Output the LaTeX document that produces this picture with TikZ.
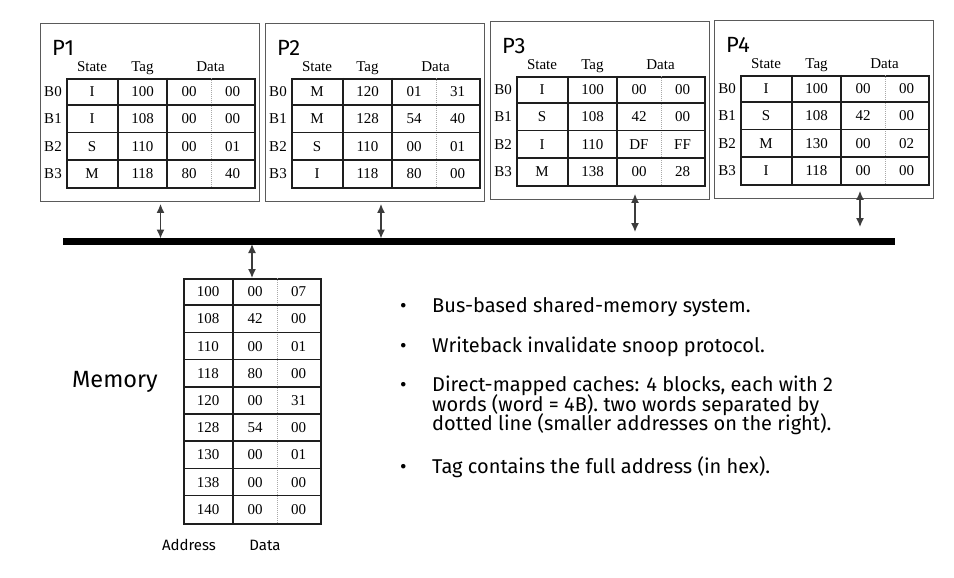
\documentclass[tikz,border=0pt]{standalone}
\usepackage{fontspec}
\setmainfont{Liberation Serif}
\newfontfamily\sansfont{Fira Sans}
\usetikzlibrary{
	positioning,
	arrows.meta
}

\definecolor{boxgray}{HTML}{5A5A5A}
\definecolor{gridblack}{HTML}{1E1E1E}
\definecolor{halfgray}{HTML}{A8A8A8}
\definecolor{arrowgray}{HTML}{3C3C3C}

\tikzset{
	procbox/.style={draw=boxgray, line width=0.9pt, minimum width=219pt,
		minimum height=178pt, anchor=north west, inner sep=0pt},
	tablebox/.style={draw=gridblack, line width=1.7pt, anchor=north west, inner sep=0pt},
	proclabel/.style={font=\sansfont\fontsize{22}{22}\selectfont, inner sep=0pt},
	cell/.style={font=\fontsize{15}{15}\selectfont, inner sep=0pt,
		text height=10pt, text depth=0pt},
	gridline/.style={draw=gridblack, line width=1.7pt},
	halfline/.style={draw=halfgray, line width=0.6pt, dash pattern=on 1pt off 1pt},
	busline/.style={line width=7pt, draw=black},
	busarrow/.style={draw=arrowgray, line width=1.3pt,
		{Latex[length=9pt,width=8pt]}-{Latex[length=9pt,width=8pt]}},
	bullettext/.style={font=\sansfont\fontsize{20}{20}\selectfont, inner sep=0pt, anchor=base west},
	sidelabel/.style={font=\sansfont\fontsize{15}{15}\selectfont, inner sep=0pt}
}

% one processor cache: name, x, y (top left of box), label, rows
\newcommand\drawcache[5]{
	\node[procbox] (#1) at (#2,#3) {};
	\node[proclabel, anchor=west] (#1-label) at (#2+12,#3+25) {#4};
	\node[tablebox, minimum width=188pt, minimum height=109.2pt] (#1-table) at (#2+26,#3+55) {};
	\node[cell] (#1-hs) at (#2+52,#3+44) {State};
	\node[cell] (#1-ht) at (#2+102.5,#3+44) {Tag};
	\node[cell] (#1-hd) at (#2+170.5,#3+44) {Data};
	\foreach \cx in {78,127}
		\draw[gridline] (#2+\cx,#3+55) -- (#2+\cx,#3+164.2);
	\draw[halfline] (#2+171,#3+55) -- (#2+171,#3+164.2);
	\foreach \ry in {1,2,3}
		\draw[gridline] (#2+26,#3+55+27.3*\ry) -- (#2+214,#3+55+27.3*\ry);
	\foreach \st/\tg/\dl/\dr [count=\r from 0] in {#5} {
		\node[cell] (#1-b\r) at (#2+13,#3+68.65+27.3*\r) {B\r};
		\node[cell] (#1-s\r) at (#2+52,#3+68.65+27.3*\r) {\st};
		\node[cell] (#1-t\r) at (#2+102.5,#3+68.65+27.3*\r) {\tg};
		\node[cell] (#1-l\r) at (#2+149,#3+68.65+27.3*\r) {\dl};
		\node[cell] (#1-r\r) at (#2+192.5,#3+68.65+27.3*\r) {\dr};
	}
}

\begin{document}
\begin{tikzpicture}[x=1pt,y=-1pt]
	\useasboundingbox (0,0) rectangle (954,578);

	% caches
	\drawcache{P1}{40}{23}{P1}{I/100/00/00, I/108/00/00, S/110/00/01, M/118/80/40}
	\drawcache{P2}{265}{23}{P2}{M/120/01/31, M/128/54/40, S/110/00/01, I/118/80/00}
	\drawcache{P3}{490}{21}{P3}{I/100/00/00, S/108/42/00, I/110/DF/FF, M/138/00/28}
	\drawcache{P4}{714}{20}{P4}{I/100/00/00, S/108/42/00, M/130/00/02, I/118/00/00}

	% bus
	\coordinate (busL) at (63,241.5);
	\coordinate (busR) at (895,241.5);
	\draw[busline] (busL) -- (busR);

	\coordinate (tap1) at (160.5,238.5);
	\coordinate (tap2) at (381,238.5);
	\coordinate (tap3) at (635,232);
	\coordinate (tap4) at (860,227);
	\coordinate (tap0) at (252,244);

	\draw[busarrow] ([yshift=-2pt]P1.south -| tap1) -- (tap1);
	\draw[busarrow] ([yshift=-2pt]P2.south -| tap2) -- (tap2);
	\draw[busarrow] ([yshift=6pt]P3.south -| tap3) -- (tap3);
	\draw[busarrow] ([yshift=8pt]P4.south -| tap4) -- (tap4);

	% memory
	\node[tablebox, minimum width=137pt, minimum height=244.8pt] (mem) at (183,278) {};
	\draw[gridline] (233,278) -- (233,522.8);
	\draw[halfline] (277,278) -- (277,522.8);
	\foreach \ry in {1,...,8}
		\draw[gridline] (183,278+27.2*\ry) -- (320,278+27.2*\ry);
	\foreach \ad/\dl/\dr [count=\r from 0] in {100/00/07, 108/42/00, 110/00/01,
		118/80/00, 120/00/31, 128/54/00, 130/00/01, 138/00/00, 140/00/00} {
		\node[cell] (m-a\r) at (208,291.6+27.2*\r) {\ad};
		\node[cell] (m-l\r) at (255,291.6+27.2*\r) {\dl};
		\node[cell] (m-r\r) at (298.5,291.6+27.2*\r) {\dr};
	}
	\draw[busarrow] (tap0) -- (mem.north -| tap0);

	\node[font=\sansfont\fontsize{23.5}{23.5}\selectfont, inner sep=0pt] (memlabel) at (115,382) {Memory};
	\node[sidelabel] (addrlabel) at (189,545) {Address};
	\node[sidelabel] (datalabel) at (265,545) {Data};

	% notes
	\foreach \by/\nm in {312/n1, 352/n2, 391.5/n3, 473/n4}
		\node[bullettext] (\nm-dot) at (400,\by) {•};
	\node[bullettext] (n1) at (432,312) {Bus-based shared-memory system.};
	\node[bullettext] (n2) at (432,352) {Writeback invalidate snoop protocol.};
	\node[bullettext] (n3a) at (432,391.5) {Direct-mapped caches: 4 blocks, each with 2};
	\node[bullettext] (n3b) at (432,411) {words (word = 4B). two words separated by};
	\node[bullettext] (n3c) at (432,430.5) {dotted line (smaller addresses on the right).};
	\node[bullettext] (n4) at (432,473) {Tag contains the full address (in hex).};
\end{tikzpicture}
\end{document}
